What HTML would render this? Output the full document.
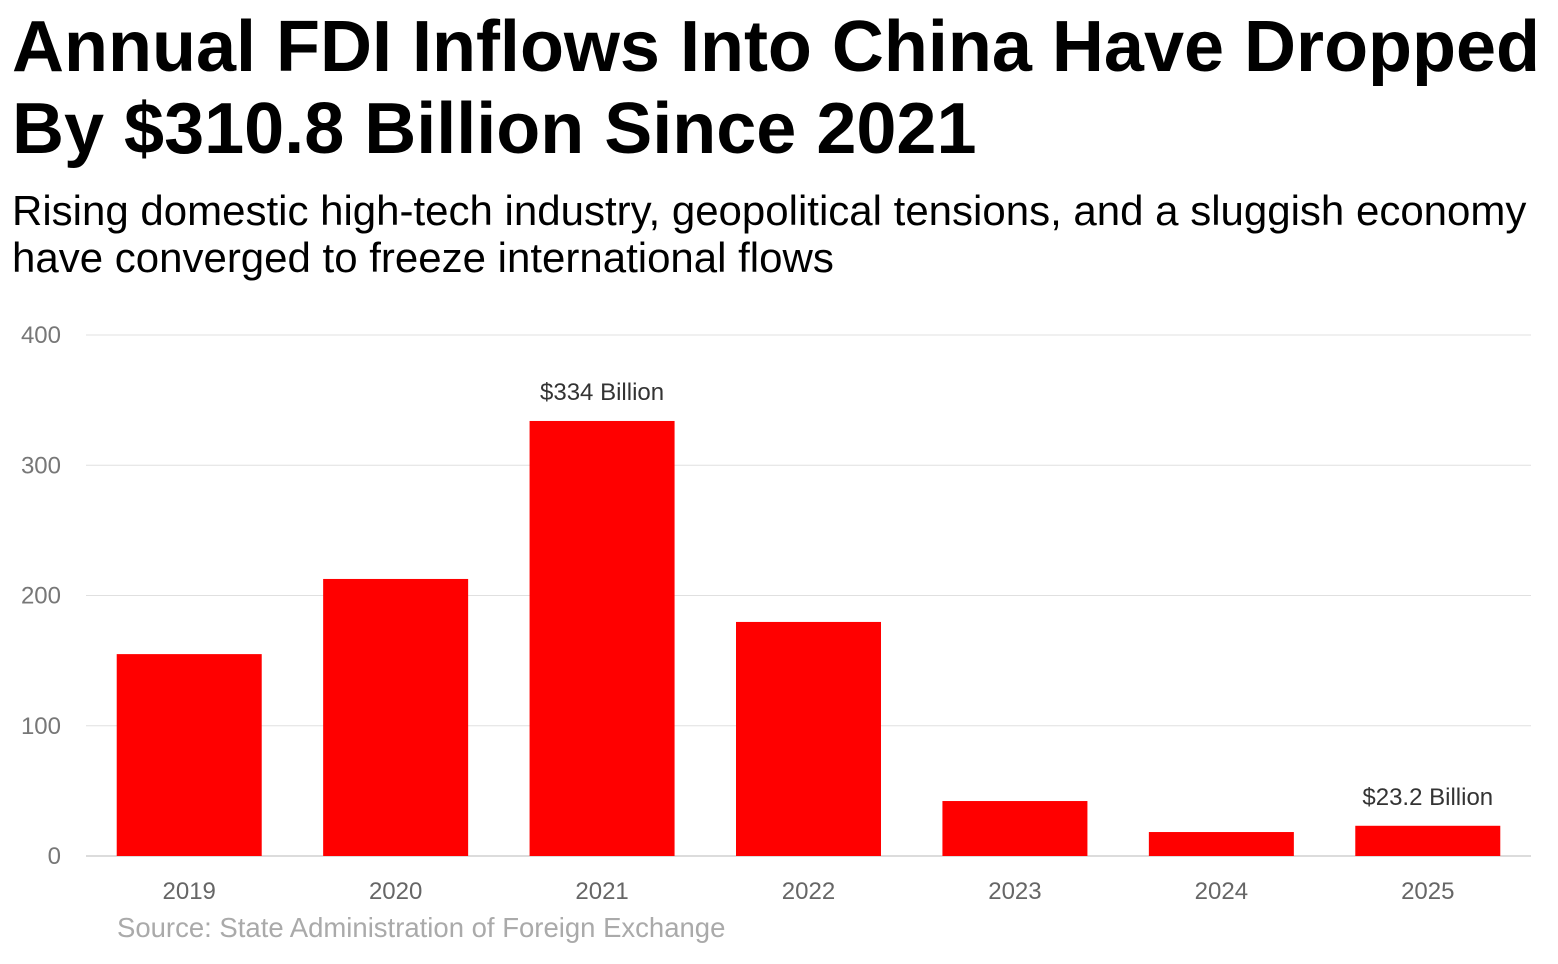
<!DOCTYPE html>
<html><head><meta charset="utf-8"><style>
body{margin:0;width:1558px;height:964px;background:#fff;overflow:hidden;font-family:"Liberation Sans",sans-serif;}
h1{position:absolute;left:12px;top:6px;margin:0;font-size:72px;line-height:82px;font-weight:bold;color:#000;white-space:nowrap;}
.sub{position:absolute;left:12px;top:187px;margin:0;font-size:42px;line-height:47px;color:#000;white-space:nowrap;}
svg{position:absolute;left:0;top:0;}
</style></head><body>
<h1>Annual FDI Inflows Into China Have Dropped<br>By $310.8 Billion Since 2021</h1>
<p class="sub">Rising domestic high-tech industry, geopolitical tensions, and a sluggish economy<br>have converged to freeze international flows</p>
<svg id="chart" width="1558" height="964"></svg>
<script>
const categories=["2019","2020","2021","2022","2023","2024","2025"];
const values=[155,212.7,334,179.7,42.2,18.4,23.2];
const yTicks=[0,100,200,300,400];
const valueLabels={"2021":"$334 Billion","2025":"$23.2 Billion"};
const svg=document.getElementById('chart');
const NS='http://www.w3.org/2000/svg';
const L=86,R=1531,Y0=856,Y1=335,YMAX=400;
const y=v=>Y0-(v/YMAX)*(Y0-Y1);
const band=(R-L)/categories.length;
const x=i=>L+band*i+band/2;
function mk(t,a){const e=document.createElementNS(NS,t);for(const k in a)e.setAttribute(k,a[k]);svg.appendChild(e);return e;}
yTicks.forEach(t=>{
  if(t>0){const g=mk('line',{x1:L,x2:R,y1:y(t),y2:y(t),stroke:'#e0e0e0','stroke-width':1});
  
  }
  const tx=mk('text',{x:61,y:y(t)+8,'text-anchor':'end','font-size':24,fill:'#777','font-family':'Liberation Sans, sans-serif'});
  tx.textContent=t;
  
  
});
const ax=mk('line',{x1:L,x2:R,y1:Y0,y2:Y0,stroke:'#d0d0d0','stroke-width':1.5});


const bw=145;
categories.forEach((c,i)=>{
  const r=mk('rect',{x:x(i)-bw/2,y:y(values[i]),width:bw,height:Y0-y(values[i]),fill:'#ff0000'});
  
  
  const t=mk('text',{x:x(i),y:899,'text-anchor':'middle','font-size':24,fill:'#666','font-family':'Liberation Sans, sans-serif'});
  t.textContent=c;
  
  
  if(valueLabels[c]){
    const v=mk('text',{x:x(i),y:y(values[i])-21,'text-anchor':'middle','font-size':24,fill:'#333','font-family':'Liberation Sans, sans-serif'});
    v.textContent=valueLabels[c];
    
    
  }
});
const s=mk('text',{x:117,y:937,'font-size':27.5,fill:'#aaa','font-family':'Liberation Sans, sans-serif'});
s.textContent='Source: State Administration of Foreign Exchange';


</script>
</body></html>
